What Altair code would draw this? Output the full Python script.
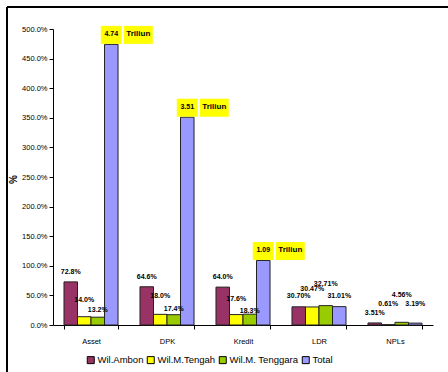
import altair as alt
import pandas as pd

# Bank indicators per region (values in %; Total bars for Asset/DPK/Kredit are Rp trillion x 100)
categories = ["Asset", "DPK", "Kredit", "LDR", "NPLs"]
series = ["Wil.Ambon", "Wil.M.Tengah", "Wil.M. Tenggara", "Total"]
ambon = [72.8, 64.6, 64.0, 30.70, 3.51]
tengah = [14.0, 18.0, 17.6, 30.47, 0.61]
tenggara = [13.2, 17.4, 18.3, 32.71, 4.56]
total = [474.0, 351.0, 109.0, 31.01, 3.19]
decimals = [1, 1, 1, 2, 2]
trillion_cats = ["Asset", "DPK", "Kredit"]

# pixel lift of each value label above its bar
lift_ambon = [10, 10, 10, 11, 10]
lift_tengah = [17, 18, 16, 18, 21]
lift_tenggara = [7, 6, 3, 22, 27]
lift_total = [0, 0, 0, 11, 19]

colors = ["#993366", "#FFFF00", "#99CC00", "#9999FF"]
FONT = "Liberation Sans, Arial, sans-serif"

W, H = 380, 296
YMAX = 500
k = YMAX / H  # data units per pixel

rows = []
for s, vals, lifts in zip(series, [ambon, tengah, tenggara, total],
                          [lift_ambon, lift_tengah, lift_tenggara, lift_total]):
    for c, v, l, d in zip(categories, vals, lifts, decimals):
        trillion = s == "Total" and c in trillion_cats
        rows.append({
            "cat": c, "series": s, "value": v, "lift": l,
            "label": "" if trillion else f"{v:.{d}f}%",
            "tri": f"{v / 100:.2f}" if trillion else "",
        })
df = pd.DataFrame(rows)

x = alt.X("cat:N", sort=categories, title=None,
          scale=alt.Scale(paddingInner=0.289, paddingOuter=0.1447),
          axis=alt.Axis(tickBand="extent", labelAngle=0, labelFont=FONT,
                        labelFontSize=7.5, labelColor="#000", tickColor="#000",
                        domainColor="#000", tickSize=4, labelPadding=8))
xo = alt.XOffset("series:N", sort=series, scale=alt.Scale(paddingInner=0, paddingOuter=0))

y_scale = alt.Scale(domain=[0, YMAX], nice=False)
y_axis = alt.Axis(values=list(range(0, 501, 50)), grid=False, labelOverlap=False,
                  labelExpr="format(datum.value, '.1f') + '%'",
                  labelFont=FONT, labelFontSize=7.5, labelColor="#000",
                  tickColor="#000", domainColor="#000", tickSize=4,
                  labelPadding=2, title="%", titleFont=FONT,
                  titleFontSize=10, titleFontWeight="bold",
                  titleColor="#000", titleX=-35, titleY=150)


def yq(field):
    return alt.Y(field, scale=y_scale, axis=y_axis, title="%")


color = alt.Color("series:N", sort=series,
                  scale=alt.Scale(domain=series, range=colors),
                  legend=alt.Legend(title=None, orient="none", legendX=33, legendY=326,
                                    direction="horizontal", symbolType="square",
                                    symbolSize=49, symbolStrokeColor="#000",
                                    symbolStrokeWidth=1, labelFont=FONT,
                                    labelFontSize=9.5, labelColor="#000",
                                    labelOffset=2, columnPadding=1))

base = alt.Chart(df)

bars = base.mark_bar(stroke="#222", strokeWidth=1).encode(
    x=x, xOffset=xo, y=yq("value:Q"), color=color)

labels = base.transform_filter("datum.label != ''").transform_calculate(
    ly="datum.value + datum.lift * %f" % k
).mark_text(
    font=FONT, fontSize=7, fontWeight="bold", color="#000", baseline="middle"
).encode(x=x, xOffset=xo, y=yq("ly:Q"), text="label:N")

# yellow callout boxes above the Total bars (unit-square paths, r = 10 px)
NUM_BOX = "M-1.05,-1.85 L1.05,-1.85 L1.05,-0.05 L-1.05,-0.05 Z"
WORD_BOX = "M1.25,-1.85 L4.15,-1.85 L4.15,-0.05 L1.25,-0.05 Z"
tri = base.transform_filter("datum.tri != ''")
tri_num_box = tri.mark_point(shape=NUM_BOX, size=400, filled=True, fill="#FFFF00",
                             opacity=1, strokeWidth=0).encode(
    x=x, xOffset=xo, y=yq("value:Q"))
tri_word_box = tri.mark_point(shape=WORD_BOX, size=400, filled=True, fill="#FFFF00",
                              opacity=1, strokeWidth=0).encode(
    x=x, xOffset=xo, y=yq("value:Q"))
tri_mid = tri.transform_calculate(mid="datum.value + 10 * %f" % k)
tri_num = tri_mid.mark_text(
    font=FONT, fontSize=7, fontWeight="bold", color="#000", baseline="middle"
).encode(x=x, xOffset=xo, y=yq("mid:Q"), text="tri:N")
tri_word = tri_mid.mark_text(
    font=FONT, fontSize=8, fontWeight="bold", color="#000", baseline="middle",
    dx=27).encode(x=x, xOffset=xo, y=yq("mid:Q"), text=alt.value("Triliun"))

# outer chart frame (left and top edges)
frame_top = base.mark_rule(color="#000", strokeWidth=1.5).encode(
    x=alt.value(-46), x2=alt.value(W + 20), y=alt.value(-22))
frame_left = base.mark_rule(color="#000", strokeWidth=1.5).encode(
    x=alt.value(-46), y=alt.value(-22), y2=alt.value(H + 60))

chart = alt.layer(
    bars, labels, tri_num_box, tri_word_box, tri_num, tri_word, frame_top, frame_left
).properties(
    width=W, height=H,
    autosize=alt.AutoSizeParams(type="none"),
    padding={"left": 53, "top": 29, "right": 15, "bottom": 47},
    background="#ffffff",
).configure_view(stroke=None)

chart.save("out.html", embed_options={"renderer": "svg", "actions": False})
